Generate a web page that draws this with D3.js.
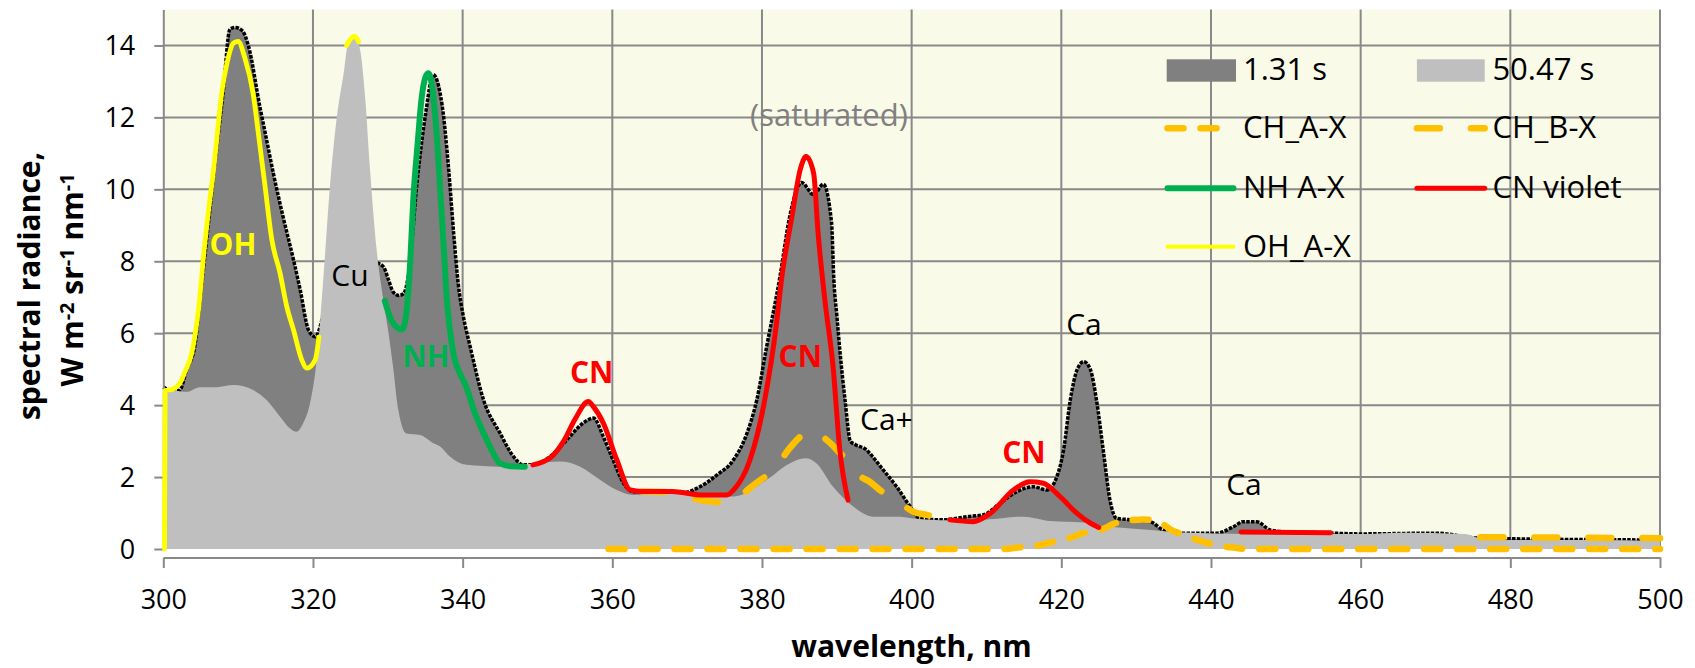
<!DOCTYPE html>
<html><head><meta charset="utf-8">
<script src="https://cdn.jsdelivr.net/npm/d3@7"></script>
<style>
body{margin:0;background:#fff}
svg{display:block}
text{font-family:"Open Sans",sans-serif}
</style>
</head><body>
<svg id="chart" width="1695" height="668"></svg>
<script>
// ---------- data ----------
const wavelengthTicks = [300, 320, 340, 360, 380, 400, 420, 440, 460, 480, 500];
const radianceTicks = [0, 2, 4, 6, 8, 10, 12, 14];

// spectrum at 1.31 s  [wavelength nm, radiance]
const spec131 = [
  [300,4.5],[301.3,4.4],[302.2,4.42],[303.1,4.98],[304.2,5.63],[304.9,6.9],[306,9.0],[307,10.9],
  [308,12.7],[308.9,14.45],[309.6,14.5],[310.6,14.4],[311.4,13.97],[312.9,12.3],[313.8,11.38],
  [314.7,10.45],[316.0,9.24],[317.4,8.04],[318.3,7.2],[319.4,6.09],[320.3,5.9],[322,7.0],[325,8.0],
  [328.5,7.95],[329.4,7.85],[330.1,7.48],[330.7,7.15],[331.5,7.05],[332.1,7.1],[332.8,7.67],
  [333.9,10.17],[335.0,12.03],[336.1,13.19],[336.8,12.86],[337.4,12.12],[338.1,10.63],[338.8,8.78],
  [339.4,7.39],[340.1,6.46],[341.0,5.63],[342.8,4.14],[345.0,3.22],[346.8,2.57],[348.1,2.34],
  [349.4,2.34],[351.7,2.57],[353.9,3.03],[356.1,3.5],[357.5,3.64],[358.8,3.12],[360.1,2.48],
  [361.5,1.83],[362.8,1.59],[366,1.6],[369.5,1.57],[371.7,1.73],[374.0,2.06],[376.2,2.48],
  [378.0,3.22],[379.3,4.14],[380.6,5.6],[382.4,7.57],[383.7,9.24],[385.3,10.19],[386.9,9.85],
  [388.2,10.14],[389.3,9.06],[389.6,7.5],[390.0,6.5],[390.4,5.54],[391.1,4.14],[391.8,3.0],
  [392.5,2.9],[394.0,2.75],[394.4,2.66],[396.2,2.2],[398.0,1.73],[399.8,1.18],[401.1,0.85],
  [404.2,0.81],[407.4,0.9],[409.6,0.95],[411.8,1.27],[414.0,1.59],[416.3,1.73],[418.1,1.64],
  [419.4,2.01],[420.3,2.75],[421.2,4.14],[422.1,4.98],[423.0,5.21],[423.9,4.98],[424.7,4.14],
  [425.6,2.75],[426.5,1.36],[427.4,0.85],[429.6,0.81],[431.9,0.76],[433.6,0.53],[436.3,0.44],
  [440.8,0.44],[443.0,0.62],[444.3,0.76],[446.1,0.76],[447.9,0.53],[449.7,0.48],[455,0.45],
  [460,0.42],[470,0.44],[476,0.3],[500,0.25]
];

// spectrum at 50.47 s
const spec5047 = [
  [300,4.5],[301.3,4.42],[303.1,4.37],[304.9,4.5],[307.1,4.5],[309.4,4.56],[312.0,4.42],
  [313.8,4.14],[315.6,3.68],[316.9,3.36],[317.8,3.26],[318.7,3.5],[319.6,4.05],[320.5,5.26],
  [321.4,7.57],[322.3,10.17],[323.2,12.03],[324.1,13.23],[324.7,14.07],[325.6,14.25],[326.3,13.88],
  [327.0,12.49],[327.6,10.63],[328.5,8.34],[329.4,6.93],[330.1,6.0],[330.7,5.07],[331.4,3.87],
  [332.5,3.21],[334.3,3.17],[336.1,2.94],[337.0,2.85],[338.3,2.57],[340.5,2.34],[345.0,2.29],
  [349.4,2.38],[353.0,2.43],[355.7,2.29],[358.4,1.92],[360.6,1.64],[362.8,1.5],[367.3,1.55],
  [371.7,1.46],[376.2,1.46],[380.6,1.92],[383.7,2.38],[385.8,2.52],[387.3,2.38],[389.5,1.73],
  [392.2,1.18],[394.9,0.9],[398.4,0.9],[400.2,0.85],[405,0.8],[410,0.82],[414.9,0.9],[418.5,0.78],
  [423,0.74],[425,0.65],[427.6,0.6],[432,0.53],[436.3,0.46],[445,0.42],[452,0.42],[461,0.42],
  [465,0.45],[474,0.42],[476,0.3],[480,0.25],[490,0.25],[500,0.22]
];

// fitted bands (null = hidden part)
const chAX = [
  [359.5,0],[412,0],[414.5,0.05],[417,0.1],[418.5,0.18],[421,0.3],[423,0.45],[425.5,0.55],
  [427,0.7],[429,0.8],[431,0.82],[433.5,0.7],[434.5,0.55],[436.3,0.4],[439,0.2],[441,0.1],
  [443,0.04],[445,0],[500,0]
];
const chBX = [
  [364,1.6],[368,1.58],[372,1.35],[375,1.3],[377,1.45],[378.4,1.7],[380,1.95],[381.5,2.15],
  [383.5,2.75],[385,3.1],[386.4,3.3],[387.5,3.2],[389.1,2.95],[390.5,2.65],[391.8,2.39],
  [393,2.05],[394.4,1.87],[396,1.6],[397.5,1.42],[399,1.2],[400.2,1.04],[402,0.95],[403.8,0.86],
  [404,null],[476,0.33],[500,0.3]
];
const nhAX = [
  [329.6,6.9],[330.5,6.35],[331.3,6.15],[331.9,6.1],[332.5,6.6],[333.0,8.0],[333.4,9.7],
  [334.0,11.3],[334.5,12.5],[335.0,13.1],[335.4,13.23],[335.9,12.9],[336.5,11.6],[337.0,10.0],
  [337.5,8.3],[337.9,6.9],[338.3,6.1],[338.9,5.3],[339.6,4.9],[340.5,4.5],[341.6,3.8],
  [342.8,3.22],[344.0,2.7],[345.0,2.38],[346.5,2.3],[348.3,2.29]
];
const cnViolet = [
  [349.4,2.34],[351.9,2.57],[353.5,3.0],[355.0,3.6],[356.8,4.1],[357.5,3.95],[358.8,3.5],
  [360.6,2.48],[362.4,1.64],[364,1.6],[368,1.6],[372,1.5],[375.3,1.5],[376.2,1.64],[378.4,2.48],
  [380.2,3.96],[382.0,6.37],[382.6,7.48],[384.0,9.24],[385.1,10.54],[385.9,10.91],[386.9,10.45],
  [387.5,8.78],[388.4,6.93],[389.5,5.07],[390.4,2.75],[391.5,1.36],
  [392,null],
  [405.1,0.81],[408.2,0.76],[410.5,0.99],[413.6,1.64],[415.8,1.87],[417.6,1.83],[419.8,1.46],
  [422.1,0.99],[423.8,0.73],[425,0.6],
  [430,null],
  [444,0.47],[456,0.45]
];
const ohAX = [
  [300.15,0],[300.25,4.4],[301.3,4.45],[302.2,4.6],[302.9,4.93],[303.8,5.44],[304.7,6.65],
  [305.5,8.4],[306.0,9.34],[306.7,10.5],[307.1,11.3],[307.8,12.67],[308.5,13.5],[309.4,14.07],
  [310.0,14.11],[310.9,13.65],[312.0,12.67],[312.7,11.56],[313.6,10.08],[314.5,8.6],[315.6,7.67],
  [316.5,6.74],[317.4,6.09],[318.5,5.26],[319.2,5.03],[320.3,5.26],[320.8,5.9],
  [322,null],
  [324.5,14.0],[325.1,14.2],[325.6,14.25],[326.1,14.1]
];

const seriesNames = ["1.31 s", "50.47 s", "CH_A-X", "CH_B-X", "NH A-X", "CN violet", "OH_A-X"];

const annotations = [
  {text:"OH", wl:309.31, v:8.18, color:"#ffff00", bold:true, anchor:"middle"},
  {text:"Cu", wl:324.95, v:7.30, color:"#000", bold:false, anchor:"middle"},
  {text:"NH", wl:335.08, v:5.07, color:"#00b050", bold:true, anchor:"middle"},
  {text:"CN", wl:357.25, v:4.61, color:"#ff0000", bold:true, anchor:"middle"},
  {text:"CN", wl:385.12, v:5.07, color:"#ff0000", bold:true, anchor:"middle"},
  {text:"Ca+", wl:393.10, v:3.31, color:"#000", bold:false, anchor:"start"},
  {text:"CN", wl:415.01, v:2.38, color:"#ff0000", bold:true, anchor:"middle"},
  {text:"Ca", wl:423.03, v:5.95, color:"#000", bold:false, anchor:"middle"},
  {text:"Ca", wl:444.41, v:1.50, color:"#000", bold:false, anchor:"middle"},
  {text:"(saturated)", wl:388.95, v:11.77, color:"#808080", bold:false, anchor:"middle", size:31}
];

// ---------- layout ----------
const svg = d3.select("#chart");
const plotL = 163.3, plotR = 1660, plotT = 9.5, plotB = 549;
const x = d3.scaleLinear().domain([300, 500]).range([plotL, plotR]);
const y = d3.scaleLinear().domain([0, 15]).range([plotB, plotT]);
const gridColor = "#898989";

svg.append("rect").attr("x",0).attr("y",0).attr("width",1695).attr("height",668).attr("fill","#fff");
svg.append("rect").attr("x",plotL).attr("y",plotT).attr("width",plotR-plotL).attr("height",plotB-plotT)
   .attr("fill","#fafae8");

// gridlines
svg.append("g").selectAll("line").data(radianceTicks.filter(d=>d>0)).join("line")
  .attr("x1",plotL).attr("x2",plotR).attr("y1",d=>y(d)).attr("y2",d=>y(d))
  .attr("stroke",gridColor).attr("stroke-width",2);
svg.append("g").selectAll("line").data(wavelengthTicks.filter(d=>d>300)).join("line")
  .attr("x1",d=>x(d)).attr("x2",d=>x(d)).attr("y1",plotT).attr("y2",plotB)
  .attr("stroke",gridColor).attr("stroke-width",2);

// areas
const area = d3.area().x(d=>x(d[0])).y0(y(0)).y1(d=>y(d[1])).curve(d3.curveMonotoneX);
const line = d3.line().defined(d=>d[1]!==null).x(d=>x(d[0])).y(d=>y(d[1])).curve(d3.curveMonotoneX);

svg.append("path").attr("d",area(spec131)).attr("fill","#808080");
svg.append("path").attr("d",line(spec131)).attr("fill","none").attr("stroke","#000")
   .attr("stroke-width",3.5).attr("stroke-dasharray","3.5,1.3");
svg.append("path").attr("d",area(spec5047)).attr("fill","#bfbfbf");

// axes
const yAxis = d3.axisLeft(y).tickValues(radianceTicks).tickSize(9).tickSizeOuter(0).tickPadding(19);
const gy = svg.append("g").attr("transform",`translate(${plotL},0)`).call(yAxis);
gy.select(".domain").attr("stroke",gridColor).attr("stroke-width",2);
gy.selectAll(".tick line").attr("stroke",gridColor).attr("stroke-width",2);
gy.selectAll(".tick text").attr("font-size",27).attr("font-family","Open Sans").attr("fill","#000").attr("dy","0.34em");

const xAxis = d3.axisBottom(x).tickValues(wavelengthTicks).tickSize(10.5).tickSizeOuter(0);
const gx = svg.append("g").attr("transform","translate(0,557.5)").call(xAxis);
gx.select(".domain").attr("stroke",gridColor).attr("stroke-width",2);
gx.selectAll(".tick line").attr("stroke",gridColor).attr("stroke-width",2);
gx.selectAll(".tick text").attr("font-size",27).attr("font-family","Open Sans").attr("fill","#000")
  .attr("y",51.5).attr("dy",0);

// fitted lines
const lineStyles = [
  {data:chAX, color:"#ffc000", width:6.5, dash:"16,17"},
  {data:chBX, color:"#ffc000", width:6.5, dash:"23,31"},
  {data:nhAX, color:"#00b050", width:6, dash:null},
  {data:cnViolet, color:"#ff0000", width:5, dash:null},
  {data:ohAX, color:"#ffff00", width:4.8, dash:null}
];
lineStyles.forEach(s=>{
  svg.append("path").attr("d",line(s.data)).attr("fill","none").attr("stroke",s.color)
    .attr("stroke-width",s.width).attr("stroke-linecap","round").attr("stroke-linejoin","round")
    .attr("stroke-dasharray",s.dash);
});

// annotations
svg.append("g").selectAll("text").data(annotations).join("text")
  .attr("x",d=>x(d.wl)).attr("y",d=>y(d.v))
  .attr("text-anchor",d=>d.anchor).attr("fill",d=>d.color)
  .attr("font-weight",d=>d.bold?700:400).attr("font-size",d=>d.size||30)
  .text(d=>d.text);

// legend
const lg = svg.append("g").attr("font-size",31).attr("fill","#000");
const rowsY = [80, 138.3, 198.3, 256.7];
const col = [{sx1:1167.5, sx2:1233.5, tx:1243}, {sx1:1416.9, sx2:1484.7, tx:1492.4}];
const legendItems = [
  {name:seriesNames[0], type:"area", color:"#808080", c:0, r:0},
  {name:seriesNames[1], type:"area", color:"#bfbfbf", c:1, r:0},
  {name:seriesNames[2], type:"line", color:"#ffc000", width:6.5, dash:"16,17", c:0, r:1},
  {name:seriesNames[3], type:"line", color:"#ffc000", width:6.5, dash:"23,31", c:1, r:1},
  {name:seriesNames[4], type:"line", color:"#00b050", width:6, dash:null, c:0, r:2},
  {name:seriesNames[5], type:"line", color:"#ff0000", width:5, dash:null, c:1, r:2},
  {name:seriesNames[6], type:"line", color:"#ffff00", width:4, dash:null, c:0, r:3}
];
legendItems.forEach(it=>{
  const cc = col[it.c], by = rowsY[it.r];
  if(it.type==="area"){
    const x1 = it.c===0 ? 1166.7 : 1416.9, x2 = it.c===0 ? 1236 : 1484.7;
    lg.append("rect").attr("x",x1).attr("y",by-20.7).attr("width",x2-x1).attr("height",22.4).attr("fill",it.color);
  } else {
    lg.append("line").attr("x1",cc.sx1).attr("x2",cc.sx2).attr("y1",by-10).attr("y2",by-10)
      .attr("stroke",it.color).attr("stroke-width",it.width).attr("stroke-linecap","round")
      .attr("stroke-dasharray",it.dash);
  }
  lg.append("text").attr("x",cc.tx).attr("y",by).text(it.name);
});

// axis titles
svg.append("text").attr("x",911.5).attr("y",657).attr("text-anchor","middle")
  .attr("font-size",30).attr("font-weight",700).text("wavelength, nm");

svg.append("text").attr("transform","translate(40,286) rotate(-90)").attr("text-anchor","middle")
  .attr("font-size",30).attr("font-weight",700).text("spectral radiance,");

const t2 = svg.append("text").attr("transform","translate(83.3,280) rotate(-90)").attr("text-anchor","middle")
  .attr("font-size",30).attr("font-weight",700);
const parts = [["W m",0],["-2",1],[" sr",0],["-1",1],[" nm",0],["-1",1]];
parts.forEach(([s,sup],i)=>{
  const prevSup = i>0 && parts[i-1][1];
  const ts = t2.append("tspan").text(s);
  if(sup){ ts.attr("font-size",20).attr("dy",-9); }
  else if(prevSup){ ts.attr("dy",9); }
});
</script>
</body></html>
